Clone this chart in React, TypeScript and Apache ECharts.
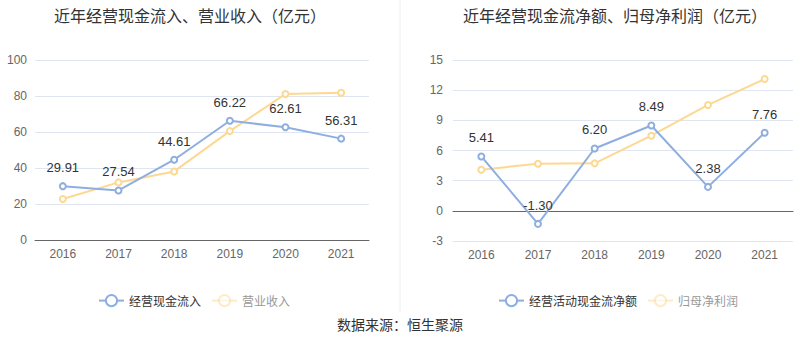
import React, { useEffect, useRef } from "react";
import * as echarts from "echarts";

const years = ["2016", "2017", "2018", "2019", "2020", "2021"];
const cashInflow = [29.91, 27.54, 44.61, 66.22, 62.61, 56.31];
const revenue = [22.8, 32.0, 38.1, 60.5, 81.1, 81.8];
const netCashFlow = [5.41, -1.3, 6.2, 8.49, 2.38, 7.76];
const netProfit = [4.09, 4.69, 4.72, 7.47, 10.53, 13.11];

const titleLeft = "近年经营现金流入、营业收入（亿元）";
const titleRight = "近年经营现金流净额、归母净利润（亿元）";
const source = "数据来源：恒生聚源";

const BLUE = "#8eaee0";
const ORANGE = "#fdd891";
const FONT = "'Liberation Sans', 'Noto Sans CJK SC', sans-serif";
const CJK = "'Noto Sans CJK SC', sans-serif";

export default function App() {
  const ref = useRef<HTMLDivElement>(null);
  useEffect(() => {
    const chart = echarts.init(ref.current!, null, { renderer: "svg" });
    const axisLabel = { color: "#666", fontSize: 12, fontFamily: FONT };
    const splitLine = { lineStyle: { color: "#e0e6f1" } };
    const lineSeries = (name: string, data: number[], color: string, idx: number, label: boolean) => ({
      name,
      type: "line",
      xAxisIndex: idx,
      yAxisIndex: idx,
      data,
      symbol: "emptyCircle",
      symbolSize: 6,
      lineStyle: { color, width: 2 },
      itemStyle: { color, borderWidth: 2 },
      label: label
        ? { show: true, position: "top", color: "#333", fontSize: 13, fontFamily: FONT, distance: 8, formatter: (p: any) => p.value.toFixed(2) }
        : { show: false },
      z: label ? 3 : 2,
    });
    const legendText = (color: string) => ({ color, fontSize: 12, fontFamily: CJK });
    chart.setOption({
      animation: false,
      textStyle: { fontFamily: FONT },
      title: [
        { text: titleLeft, left: 185, top: 2, textAlign: "center", textStyle: { fontSize: 16, fontWeight: "normal", color: "#333", fontFamily: CJK } },
        { text: titleRight, left: 610, top: 2, textAlign: "center", textStyle: { fontSize: 16, fontWeight: "normal", color: "#333", fontFamily: CJK } },
      ],
      legend: [
        {
          left: 93, top: 289, itemWidth: 25, itemHeight: 14, itemGap: 10,
          data: [
            { name: "经营现金流入", textStyle: legendText("#333") },
            { name: "营业收入", textStyle: legendText("#999"), itemStyle: { opacity: 0.5 }, lineStyle: { opacity: 0.5 } },
          ],
          textStyle: legendText("#333"),
        },
        {
          left: 493, top: 289, itemWidth: 25, itemHeight: 14, itemGap: 10,
          data: [
            { name: "经营活动现金流净额", textStyle: legendText("#333") },
            { name: "归母净利润", textStyle: legendText("#999"), itemStyle: { opacity: 0.5 }, lineStyle: { opacity: 0.5 } },
          ],
          textStyle: legendText("#333"),
        },
      ],
      grid: [
        { left: 35, top: 60, width: 334, height: 180 },
        { left: 453, top: 60, width: 340, height: 181 },
      ],
      xAxis: [
        { type: "category", gridIndex: 0, data: years, axisLine: { lineStyle: { color: "#666" } }, axisTick: { lineStyle: { color: "#666" } }, axisLabel: { ...axisLabel, margin: 8 } },
        { type: "category", gridIndex: 1, data: years, axisLine: { onZero: true, lineStyle: { color: "#666" } }, axisTick: { lineStyle: { color: "#666" } }, axisLabel: { ...axisLabel, margin: 8 } },
      ],
      yAxis: [
        { type: "value", gridIndex: 0, min: 0, max: 100, interval: 20, axisLabel: { ...axisLabel, margin: 8 }, splitLine },
        { type: "value", gridIndex: 1, min: -3, max: 15, interval: 3, axisLabel: { ...axisLabel, margin: 10 }, splitLine },
      ],
      graphic: [
        { type: "line", shape: { x1: 400, y1: 0, x2: 400, y2: 312 }, style: { stroke: "#eee", lineWidth: 1 } },
        { type: "text", x: 400, y: 317, style: { text: source, fill: "#333", fontSize: 14, fontFamily: CJK, textAlign: "center" } },
      ],
      series: [
        lineSeries("营业收入", revenue, ORANGE, 0, false),
        lineSeries("经营现金流入", cashInflow, BLUE, 0, true),
        lineSeries("归母净利润", netProfit, ORANGE, 1, false),
        lineSeries("经营活动现金流净额", netCashFlow, BLUE, 1, true),
      ],
    });
    return () => chart.dispose();
  }, []);
  return <div ref={ref} style={{ width: 800, height: 358, position: "absolute", left: 0, top: 0 }} />;
}
